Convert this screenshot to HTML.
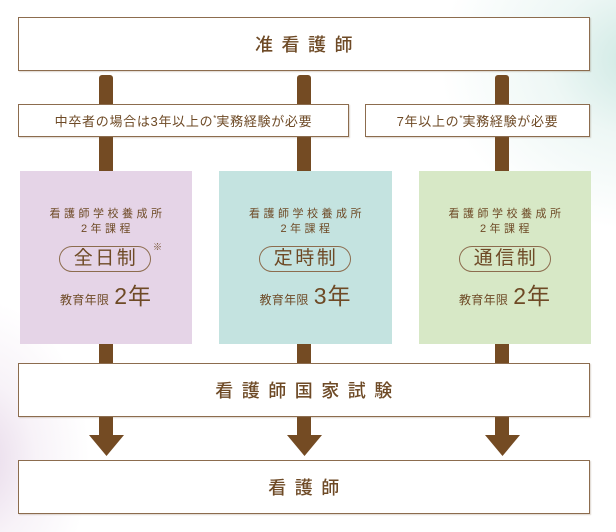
<!DOCTYPE html>
<html><head><meta charset="utf-8">
<style>
*{margin:0;padding:0;box-sizing:border-box}
html,body{width:616px;height:532px;overflow:hidden}
body{position:relative;background:#fff;font-family:"Liberation Sans","Noto Sans CJK JP",sans-serif;color:#6e4a26}
.bg1{position:absolute;left:0;top:0;width:616px;height:532px;
background:radial-gradient(ellipse 200px 170px at 640px 60px,rgba(200,230,224,0.9),rgba(220,239,235,0.5) 45%,rgba(255,255,255,0) 100%);}
.bg2{position:absolute;left:0;top:0;width:616px;height:532px;
background:radial-gradient(ellipse 110px 160px at -20px 460px,rgba(230,215,232,0.95),rgba(240,230,241,0.5) 50%,rgba(255,255,255,0) 100%);}
.box{position:absolute;background:#fff;border:1px solid #8c6c4e;box-shadow:1px 1px 1px rgba(120,90,60,0.25);display:flex;align-items:center;justify-content:center}
.bar{position:absolute;background:#744b23;width:14px}
.big{font-size:18px;letter-spacing:8.5px;padding-left:8px;font-weight:500}
.lbl{font-size:13px;letter-spacing:0.7px;font-weight:400}
.lbl sup{font-size:8px;vertical-align:5px;letter-spacing:0}
.col{position:absolute;top:171px;height:173px}
.l1{position:absolute;left:0;width:100%;text-align:center;font-size:11px;letter-spacing:3.5px;padding-left:3px;line-height:14px}
.pill{position:absolute;top:246px;height:26px;width:92px;border:1.3px solid #8c6c4e;border-radius:13px;text-align:center;font-size:19px;line-height:23px;letter-spacing:2.5px;padding-left:2px}
.yr{position:absolute;left:0;width:100%;top:277px;height:28px;display:flex;justify-content:center;align-items:baseline}
.yr .s{font-size:12px;letter-spacing:0.3px;margin-right:5px}
.yr .n{font-size:23px;letter-spacing:1px}
.kome{position:absolute;font-size:9px;top:240px}
.arrow{position:absolute}
</style></head><body>
<div class="bg1"></div><div class="bg2"></div>

<!-- bars top -->
<div class="bar" style="left:99px;top:75px;height:97px;border-radius:3px 3px 0 0"></div>
<div class="bar" style="left:297px;top:75px;height:97px;border-radius:3px 3px 0 0"></div>
<div class="bar" style="left:495px;top:75px;height:97px;border-radius:3px 3px 0 0"></div>
<!-- bars middle -->
<div class="bar" style="left:99px;top:342px;height:22px"></div>
<div class="bar" style="left:297px;top:342px;height:22px"></div>
<div class="bar" style="left:495px;top:342px;height:22px"></div>

<!-- arrows -->
<svg class="arrow" style="left:0;top:416px" width="616" height="42">
<g fill="#744b23">
<path d="M99 0 H113 V19 H124 L106.5 40 L89 19 H99 Z"/>
<path d="M297 0 H311 V19 H322 L304.5 40 L287 19 H297 Z"/>
<path d="M495 0 H509 V19 H520 L502.5 40 L485 19 H495 Z"/>
</g></svg>

<div class="box" style="left:18px;top:17px;width:572px;height:54px"><span class="big">准看護師</span></div>

<div class="box" style="left:18px;top:104px;width:331px;height:33px"><span class="lbl">中卒者の場合は3年以上の<sup>*</sup>実務経験が必要</span></div>
<div class="box" style="left:365px;top:104px;width:225px;height:33px"><span class="lbl">7年以上の<sup>*</sup>実務経験が必要</span></div>

<!-- colored boxes -->
<div class="col" style="left:20px;width:172px;background:#e5d4e7"></div>
<div class="col" style="left:219px;width:173px;background:#c4e3e0"></div>
<div class="col" style="left:419px;width:172px;background:#d7e8c6"></div>

<div style="position:absolute;left:20px;top:0;width:172px;height:532px">
<div class="l1" style="top:207px">看護師学校養成所</div>
<div class="l1" style="top:222px">2年課程</div>
<div class="pill" style="left:39px">全日制</div>
<div class="kome" style="left:133px">※</div>
<div class="yr"><span class="s">教育年限</span><span class="n">2年</span></div>
</div>

<div style="position:absolute;left:219px;top:0;width:173px;height:532px">
<div class="l1" style="top:207px">看護師学校養成所</div>
<div class="l1" style="top:222px">2年課程</div>
<div class="pill" style="left:40px">定時制</div>
<div class="yr"><span class="s">教育年限</span><span class="n">3年</span></div>
</div>

<div style="position:absolute;left:419px;top:0;width:172px;height:532px">
<div class="l1" style="top:207px">看護師学校養成所</div>
<div class="l1" style="top:222px">2年課程</div>
<div class="pill" style="left:40px">通信制</div>
<div class="yr"><span class="s">教育年限</span><span class="n">2年</span></div>
</div>

<div class="box" style="left:18px;top:363px;width:572px;height:54px"><span class="big">看護師国家試験</span></div>
<div class="box" style="left:18px;top:460px;width:572px;height:54px"><span class="big">看護師</span></div>
</body></html>
